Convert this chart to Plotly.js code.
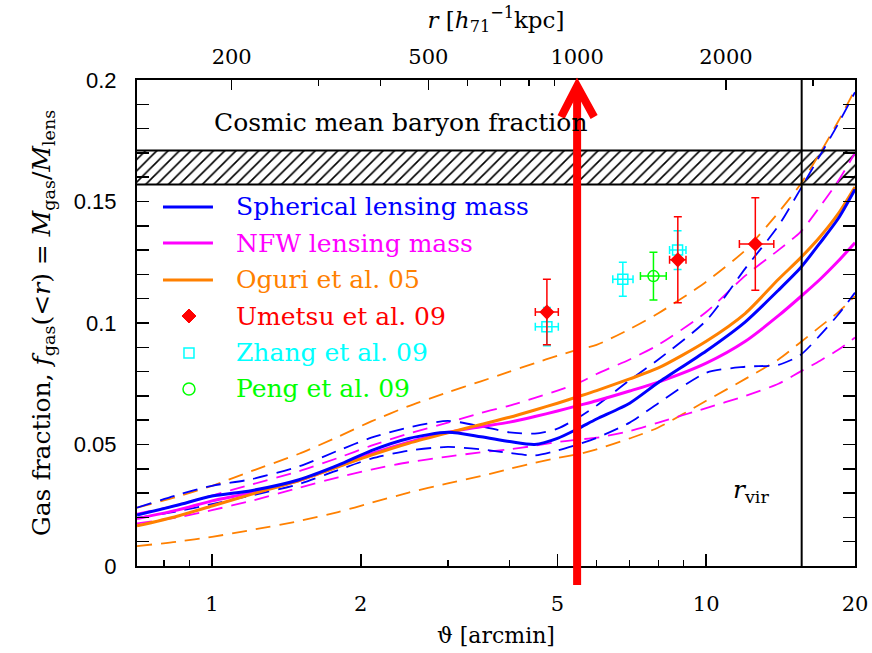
<!DOCTYPE html>
<html>
<head>
<meta charset="utf-8">
<script src="https://cdn.plot.ly/plotly-3.0.1.min.js"></script>
<style>
  html, body { margin: 0; padding: 0; background: #ffffff; }
  #chart { width: 872px; height: 653px; }
</style>
</head>
<body>
<div id="chart"></div>
<script>
// Projected radius grid, arcmin
const theta = [0.705, 0.85, 1, 1.2, 1.5, 1.8, 2.1, 2.5, 3, 3.5, 4, 4.5, 5, 5.5, 6, 7, 8, 10, 12, 14, 15.5, 17, 18.5, 20];

// Spherical lensing mass: best fit and 1-sigma band
const sphericalMass = [0.0210, 0.0250, 0.0288, 0.0310, 0.0355, 0.0415, 0.0475, 0.0525, 0.0550, 0.0532, 0.0512, 0.0500, 0.0525, 0.0565, 0.0605, 0.0670, 0.0755, 0.0885, 0.1005, 0.1135, 0.1226, 0.1330, 0.1430, 0.1550];
const sphericalLo   = [0.0198, 0.0225, 0.0255, 0.0290, 0.0337, 0.0395, 0.0442, 0.0475, 0.0490, 0.0480, 0.0465, 0.0455, 0.0475, 0.0500, 0.0527, 0.0590, 0.0670, 0.0795, 0.0820, 0.0828, 0.0868, 0.0950, 0.1035, 0.1125];
const sphericalHi   = [0.0240, 0.0292, 0.0330, 0.0357, 0.0410, 0.0475, 0.0528, 0.0570, 0.0597, 0.0575, 0.0550, 0.0545, 0.0565, 0.0610, 0.0660, 0.0765, 0.0850, 0.1010, 0.1225, 0.1400, 0.1550, 0.1690, 0.1820, 0.1950];

// NFW lensing mass
const nfwMass = [0.0195, 0.0230, 0.0268, 0.0302, 0.0352, 0.0410, 0.0462, 0.0510, 0.0550, 0.0573, 0.0592, 0.0615, 0.0638, 0.0660, 0.0680, 0.0720, 0.0757, 0.0835, 0.0925, 0.1030, 0.1107, 0.1180, 0.1255, 0.1330];
const nfwLo   = [0.0175, 0.0200, 0.0230, 0.0268, 0.0322, 0.0365, 0.0397, 0.0427, 0.0450, 0.0468, 0.0480, 0.0495, 0.0510, 0.0520, 0.0528, 0.0555, 0.0590, 0.0650, 0.0700, 0.0750, 0.0800, 0.0845, 0.0890, 0.0940];
const nfwHi   = [0.0215, 0.0250, 0.0290, 0.0335, 0.0390, 0.0445, 0.0495, 0.0545, 0.0590, 0.0630, 0.0660, 0.0692, 0.0722, 0.0752, 0.0790, 0.0850, 0.0910, 0.1045, 0.1195, 0.1300, 0.1374, 0.1480, 0.1585, 0.1700];

// Oguri et al. 05
const oguri05 = [0.0165, 0.0205, 0.0247, 0.0295, 0.0352, 0.0408, 0.0456, 0.0505, 0.0548, 0.0582, 0.0612, 0.0642, 0.0670, 0.0697, 0.0722, 0.0770, 0.0815, 0.0925, 0.1040, 0.1180, 0.1267, 0.1355, 0.1450, 0.1560];
const oguriLo = [0.0082, 0.0100, 0.0120, 0.0148, 0.0185, 0.0222, 0.0260, 0.0302, 0.0340, 0.0370, 0.0400, 0.0425, 0.0445, 0.0460, 0.0480, 0.0525, 0.0570, 0.0680, 0.0770, 0.0850, 0.0920, 0.0985, 0.1045, 0.1110];
const oguriHi = [0.0240, 0.0285, 0.0330, 0.0390, 0.0462, 0.0532, 0.0595, 0.0658, 0.0715, 0.0760, 0.0800, 0.0835, 0.0865, 0.0890, 0.0910, 0.0975, 0.1040, 0.1170, 0.1300, 0.1455, 0.1570, 0.1700, 0.1830, 0.1960];

// X-ray measurements
const umetsuTheta = [4.76, 8.76, 12.57];
const umetsuThetaPlus = [0.26, 0.34, 1.13];
const umetsuThetaMinus = [0.25, 0.33, 0.90];
const umetsuF = [0.1045, 0.1260, 0.1325];
const umetsuErr = [0.0135, 0.0177, 0.0190];

const zhangTheta = [4.76, 6.78, 8.75];
const zhangThetaPlus = [0.26, 0.33, 0.35];
const zhangThetaMinus = [0.25, 0.31, 0.32];
const zhangF = [0.0985, 0.1180, 0.1300];
const zhangErr = [0.0079, 0.0070, 0.0080];

const pengTheta = [7.82];
const pengThetaPlus = [0.48];
const pengThetaMinus = [0.46];
const pengF = [0.1193];
const pengErr = [0.0098];

// Cosmic mean baryon fraction band and virial radius
const baryonBand = [0.157, 0.171];
const thetaVir = 15.6;
const kpcPerArcmin = 182.5;
const rMarker = 1000;

// Axes
const thetaMin = 0.705, thetaMax = 20;
const thetaTicks = [1, 2, 5, 10, 20];
const thetaMinor = [0.8, 0.9, 3, 4, 6, 7, 8, 9];
const rTicks = [200, 500, 1000, 2000];
const rMinor = [300, 400, 600, 700, 800, 900, 3000];
const fTicks = [0, 0.05, 0.1, 0.15, 0.2];
const fTickText = ['0', '0.05', '0.1', '0.15', '0.2'];

const SERIF = 'DejaVu Serif, serif';
const SANS = 'Liberation Sans, Arial, sans-serif';
const BLUE = '#0000ff', MAGENTA = '#ff00ff', ORANGE = '#ff8000';
const RED = '#ff0000', CYAN = '#00ffff', GREEN = '#00ff00';
const DASH = '15px,9px';

function curve(y, color, width, dash) {
  return {
    x: theta, y: y, type: 'scatter', mode: 'lines',
    line: {color: color, width: width, dash: dash || 'solid', shape: 'spline', smoothing: 0.7},
    hoverinfo: 'skip'
  };
}

function points(x, xp, xm, y, ey, color, symbol, size) {
  return {
    x: x, y: y, type: 'scatter', mode: 'markers',
    marker: {symbol: symbol, size: size, color: color, line: {color: color, width: 1.5}},
    error_y: {type: 'data', array: ey, color: color, thickness: 1.5, width: 4},
    error_x: {type: 'data', symmetric: false, array: xp, arrayminus: xm, color: color, thickness: 1.5, width: 4},
    hoverinfo: 'skip'
  };
}

const data = [
  // hatched baryon fraction band
  {
    x: [thetaMin, thetaMax, thetaMax, thetaMin],
    y: [baryonBand[0], baryonBand[0], baryonBand[1], baryonBand[1]],
    type: 'scatter', mode: 'lines', fill: 'toself',
    line: {width: 0, color: 'rgba(0,0,0,0)'},
    fillcolor: 'white',
    fillpattern: {shape: '/', bgcolor: 'white', fgcolor: 'black', size: 8, solidity: 0.2},
    hoverinfo: 'skip'
  },
  curve(oguriLo, ORANGE, 1.8, DASH),
  curve(oguriHi, ORANGE, 1.8, DASH),
  curve(nfwLo, MAGENTA, 1.8, DASH),
  curve(nfwHi, MAGENTA, 1.8, DASH),
  curve(sphericalLo, BLUE, 1.8, DASH),
  curve(sphericalHi, BLUE, 1.8, DASH),
  curve(nfwMass, MAGENTA, 3),
  curve(oguri05, ORANGE, 3),
  curve(sphericalMass, BLUE, 3),
  points(zhangTheta, zhangThetaPlus, zhangThetaMinus, zhangF, zhangErr, CYAN, 'square-open', 10),
  points(pengTheta, pengThetaPlus, pengThetaMinus, pengF, pengErr, GREEN, 'circle-open', 11),
  points(umetsuTheta, umetsuThetaPlus, umetsuThetaMinus, umetsuF, umetsuErr, RED, 'diamond', 10),
  // carries the physical-radius axis along the top
  {x: [], y: [], xaxis: 'x2', type: 'scatter', mode: 'lines', hoverinfo: 'skip'}
];

// legend, drawn by hand in paper coordinates
const legendRows = [0.7387, 0.6646, 0.5885, 0.5144, 0.4383, 0.3642];
const legendItems = [
  {text: 'Spherical lensing mass', color: BLUE, kind: 'line'},
  {text: 'NFW lensing mass', color: MAGENTA, kind: 'line'},
  {text: 'Oguri et al. 05', color: ORANGE, kind: 'line'},
  {text: 'Umetsu et al. 09', color: RED, kind: 'diamond'},
  {text: 'Zhang et al. 09', color: CYAN, kind: 'square'},
  {text: 'Peng et al. 09', color: GREEN, kind: 'circle'}
];

const shapes = [
  {type: 'line', xref: 'paper', yref: 'y', x0: 0, x1: 1, y0: baryonBand[1], y1: baryonBand[1], line: {color: 'black', width: 2}},
  {type: 'line', xref: 'paper', yref: 'y', x0: 0, x1: 1, y0: baryonBand[0], y1: baryonBand[0], line: {color: 'black', width: 2}},
  {type: 'line', xref: 'x', yref: 'paper', x0: thetaVir, x1: thetaVir, y0: 0, y1: 1, line: {color: 'black', width: 2}},
  // red arrow marking r = 1000 kpc
  {type: 'line', xref: 'x', yref: 'paper', x0: rMarker / kpcPerArcmin, x1: rMarker / kpcPerArcmin, y0: -0.039, y1: 0.975, line: {color: RED, width: 8}},
  {type: 'path', xref: 'x', yref: 'paper', xsizemode: 'pixel', ysizemode: 'pixel',
   xanchor: rMarker / kpcPerArcmin, yanchor: 1, path: 'M -16,-37 L 0,-6 L 17,-37', line: {color: RED, width: 8}}
];

const annotations = [
  {xref: 'x', yref: 'y', x: Math.log10(1.0), y: 0.1827, xanchor: 'left', yanchor: 'middle', showarrow: false,
   text: 'Cosmic mean baryon fraction', font: {family: SERIF, size: 25, color: 'black'}},
  {xref: 'x', yref: 'y', x: Math.log10(12.3), y: 0.031, xanchor: 'center', yanchor: 'middle', showarrow: false,
   text: '<i>r</i><sub>vir</sub>', font: {family: SERIF, size: 25, color: 'black'}}
];

legendItems.forEach(function (item, i) {
  const yy = legendRows[i];
  annotations.push({xref: 'paper', yref: 'paper', x: 0.135, y: yy, xanchor: 'left', yanchor: 'middle',
    showarrow: false, text: item.text, font: {family: SERIF, size: 25, color: item.color}});
  if (item.kind === 'line') {
    shapes.push({type: 'line', xref: 'paper', yref: 'paper', x0: 0.0362, x1: 0.1058, y0: yy, y1: yy,
      line: {color: item.color, width: 3}});
  } else if (item.kind === 'diamond') {
    shapes.push({type: 'path', xref: 'paper', yref: 'paper', xsizemode: 'pixel', ysizemode: 'pixel',
      xanchor: 0.0724, yanchor: yy, path: 'M 0,7 L 7,0 L 0,-7 L -7,0 Z',
      fillcolor: item.color, line: {color: item.color, width: 1}});
  } else if (item.kind === 'square') {
    shapes.push({type: 'rect', xref: 'paper', yref: 'paper', xsizemode: 'pixel', ysizemode: 'pixel',
      xanchor: 0.0724, yanchor: yy, x0: -5, x1: 5, y0: -5, y1: 5, line: {color: item.color, width: 1.5}});
  } else {
    shapes.push({type: 'circle', xref: 'paper', yref: 'paper', xsizemode: 'pixel', ysizemode: 'pixel',
      xanchor: 0.0724, yanchor: yy, x0: -6, x1: 6, y0: -6, y1: 6, line: {color: item.color, width: 1.5}});
  }
});

const tickCommon = {ticks: 'inside', tickcolor: 'black', tickwidth: 1.5, showgrid: false, zeroline: false,
  showline: true, linecolor: 'black', linewidth: 2};

const layout = {
  width: 872, height: 653,
  margin: {l: 137, r: 17, t: 80, b: 87, pad: 0},
  paper_bgcolor: 'white', plot_bgcolor: 'white',
  showlegend: false,
  xaxis: Object.assign({}, tickCommon, {
    type: 'log', range: [Math.log10(thetaMin), Math.log10(thetaMax)],
    tickmode: 'array', tickvals: thetaTicks, ticktext: thetaTicks.map(String), ticklen: 12,
    mirror: false, ticklabelstandoff: 18,
    tickfont: {family: SERIF, size: 21, color: 'black'},
    minor: {tickmode: 'array', tickvals: thetaMinor, ticks: 'inside', ticklen: 6, tickwidth: 1.5, tickcolor: 'black', showgrid: false},
    title: {text: 'ϑ [arcmin]', font: {family: SERIF, size: 22, color: 'black'}, standoff: 12}
  }),
  xaxis2: Object.assign({}, tickCommon, {
    type: 'log', overlaying: 'x', side: 'top', anchor: 'y',
    range: [Math.log10(thetaMin * kpcPerArcmin), Math.log10(thetaMax * kpcPerArcmin)],
    tickmode: 'array', tickvals: rTicks, ticktext: rTicks.map(String), ticklen: 10,
    ticklabelstandoff: 6,
    tickfont: {family: SERIF, size: 21, color: 'black'},
    minor: {tickmode: 'array', tickvals: rMinor, ticks: 'inside', ticklen: 6, tickwidth: 1.5, tickcolor: 'black', showgrid: false},
    title: {text: '<i>r</i> [<i>h</i><sub>71</sub><sup>−1</sup>kpc]', font: {family: SERIF, size: 23, color: 'black'}, standoff: 10}
  }),
  yaxis: Object.assign({}, tickCommon, {
    range: [0, 0.2], tickmode: 'array', tickvals: fTicks, ticktext: fTickText, ticklen: 12,
    mirror: 'allticks', ticklabelstandoff: 14,
    tickfont: {family: SANS, size: 22, color: 'black'},
    minor: {tickmode: 'linear', tick0: 0, dtick: 0.01, ticks: 'inside', ticklen: 6, tickwidth: 1.5, tickcolor: 'black', showgrid: false},
    title: {text: 'Gas fraction, <i>f</i><sub>gas</sub>(&lt;<i>r</i>) = <i>M</i><sub>gas</sub>/<i>M</i><sub>lens</sub>',
            font: {family: SERIF, size: 25, color: 'black'}, standoff: 16}
  }),
  shapes: shapes,
  annotations: annotations
};

Plotly.newPlot('chart', data, layout, {staticPlot: true, displayModeBar: false});
</script>
</body>
</html>
